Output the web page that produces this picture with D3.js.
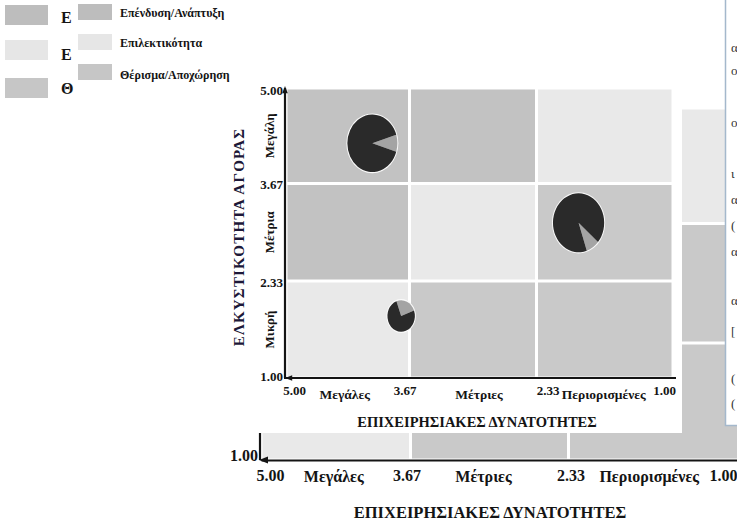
<!DOCTYPE html>
<html><head><meta charset="utf-8">
<script src="https://cdn.jsdelivr.net/npm/d3@7"></script>
<style>body{margin:0;background:#fff}svg{display:block}</style>
</head><body><svg id="c" width="737" height="527"></svg>
<script>
// ---------------- data ----------------
const legendLabels = ["Επένδυση/Ανάπτυξη", "Επιλεκτικότητα", "Θέρισμα/Αποχώρηση"];
const tickValues = [5.00, 3.67, 2.33, 1.00];
const tickLabels = ["5.00", "3.67", "2.33", "1.00"];
const strengthLabels = ["Μεγάλες", "Μέτριες", "Περιορισμένες"];
const attractLabels = ["Μεγάλη", "Μέτρια", "Μικρή"];
const xTitle = "ΕΠΙΧΕΙΡΗΣΙΑΚΕΣ ΔΥΝΑΤΟΤΗΤΕΣ";
const yTitle = "ΕΛΚΥΣΤΙΚΟΤΗΤΑ ΑΓΟΡΑΣ";
// zone index per cell: rows = attractiveness (high->low), cols = strength (high->low)
const cellZone = [[0, 0, 1], [0, 1, 2], [1, 2, 2]];
// business units
const unitStrength = [4.07, 1.92, 3.76];
const unitAttract  = [4.23, 3.13, 1.85];
const unitSize     = [100, 105, 30];
const unitShare    = [9.5, 8.5, 25];
// cut-off text of an overlapping window at the right edge
const edgeChars = ["α", "ο", "ο", "ι", "α", "(", "α", "α", "[", "(", "("];

// ---------------- style ----------------
const zoneFill = ["#c2c2c2", "#e9e9e9", "#c9c9c9"];
const legendFill = ["#bdbdbd", "#e6e6e6", "#c6c6c6"];
const pieOrient = [90, 146, 25]; // degrees, centre of light slice
const FONT = "'Liberation Serif','Times New Roman',serif";
const ink = "#141414";

const svg = d3.select("#c");

function arrow(g, x, y, dir, s) {
  let p;
  if (dir === "left") p = `M${x},${y} L${x + s * 1.8},${y - s * 0.7} L${x + s * 1.8},${y + s * 0.7} Z`;
  else p = `M${x},${y} L${x - s * 0.7},${y + s * 1.8} L${x + s * 0.7},${y + s * 1.8} Z`;
  g.append("path").attr("d", p).attr("fill", ink);
}

function drawCells(g, X, Y) {
  for (let r = 0; r < 3; r++) for (let c = 0; c < 3; c++) {
    const x0 = X(tickValues[c]) + 1.5, x1 = X(tickValues[c + 1]) - 1.5;
    const y0 = Y(tickValues[r]) + 1.5, y1 = Y(tickValues[r + 1]) - 1.5;
    g.append("rect").attr("x", x0).attr("y", y0)
      .attr("width", x1 - x0).attr("height", y1 - y0)
      .attr("fill", zoneFill[cellZone[r][c]]);
  }
}

// ================= background (larger) copy, mostly hidden =================
const bg = svg.append("g");
legendLabels.forEach((l, i) => {
  const yy = [5, 40, 78][i];
  bg.append("rect").attr("x", 5).attr("y", yy).attr("width", 43).attr("height", 20).attr("fill", legendFill[i]);
  // only the first letter of each label is left uncovered
  bg.append("text").attr("x", 61).attr("y", yy + [18, 20, 16][i]).text(l.charAt(0))
    .attr("font-family", FONT).attr("font-weight", "bold").attr("font-size", 16).attr("fill", ink);
});
const bx = d3.scaleLinear().domain(tickValues).range([261, 410.5, 568.5, 740]);
const by = d3.scaleLinear().domain(tickValues).range([108, 223.5, 343, 460]);
drawCells(bg, bx, by);
const bxa = bg.append("g").attr("transform", `translate(0,${by(1)})`)
  .call(d3.axisBottom(bx).tickValues(tickValues).tickSize(0).tickPadding(10).tickFormat((d, i) => tickLabels[i]));
bxa.select(".domain").attr("stroke", ink).attr("stroke-width", 2.2);
bxa.selectAll("text").attr("font-family", FONT).attr("font-weight", "bold").attr("font-size", 16).attr("fill", ink)
  .attr("dx", (d, i) => [9, -4, 2, -17][i]);
arrow(bg, 259, by(1), "left", 5);
bg.append("line").attr("x1", 260).attr("x2", 260).attr("y1", 380).attr("y2", by(1)).attr("stroke", ink).attr("stroke-width", 2.2);
bg.append("text").attr("x", 258).attr("y", by(1) + 1).attr("text-anchor", "end").text(tickLabels[3])
  .attr("font-family", FONT).attr("font-weight", "bold").attr("font-size", 16).attr("fill", ink);
strengthLabels.forEach((l, i) => {
  bg.append("text").attr("x", (bx(tickValues[i]) + bx(tickValues[i + 1])) / 2 + [-2, -6, -5][i]).attr("y", by(1) + 22)
    .attr("text-anchor", "middle").text(l)
    .attr("font-family", FONT).attr("font-weight", "bold").attr("font-size", 16).attr("fill", ink);
});
bg.append("text").attr("x", 490).attr("y", 518).attr("text-anchor", "middle").text(xTitle)
  .attr("font-family", FONT).attr("font-weight", "bold").attr("font-size", 16.5).attr("fill", ink);

// ================= main panel =================
svg.append("rect").attr("x", 74).attr("y", 0).attr("width", 608).attr("height", 433).attr("fill", "#fff");
const mg = svg.append("g");
legendLabels.forEach((l, i) => {
  const yy = [4, 34, 64][i];
  mg.append("rect").attr("x", 78).attr("y", yy).attr("width", 34).attr("height", 16).attr("fill", legendFill[i]);
  mg.append("text").attr("x", 120).attr("y", yy + [13, 13, 15][i]).text(l)
    .attr("font-family", FONT).attr("font-weight", "bold").attr("font-size", 12).attr("fill", ink);
});
const mx = d3.scaleLinear().domain(tickValues).range([286, 409.5, 536.5, 673]);
const my = d3.scaleLinear().domain(tickValues).range([88, 183.5, 281, 378]);
drawCells(mg, mx, my);

// pies
const rScale = d3.scaleSqrt().domain([0, 100]).range([0, 25]);
unitStrength.forEach((s, i) => {
  const r = rScale(unitSize[i]);
  const light = unitShare[i] / 100 * 2 * Math.PI;
  const start = pieOrient[i] * Math.PI / 180 - light / 2;
  const pie = d3.pie().sort(null).startAngle(start).endAngle(start + 2 * Math.PI);
  const arcs = pie([unitShare[i], 100 - unitShare[i]]);
  const g = mg.append("g").attr("transform", `translate(${mx(s)},${my(unitAttract[i])}) scale(1,1.15)`);
  g.append("circle").attr("r", r + 1).attr("fill", "#fafafa");
  g.selectAll("path").data(arcs).join("path")
    .attr("d", d3.arc().innerRadius(0).outerRadius(r))
    .attr("fill", (d, j) => j === 0 ? "#a4a4a4" : "#2a2a2a");
});

// axes
const mxa = mg.append("g").attr("transform", `translate(0,${my(1)})`)
  .call(d3.axisBottom(mx).tickValues(tickValues).tickSize(0).tickPadding(8).tickFormat((d, i) => tickLabels[i]));
mxa.select(".domain").attr("stroke", ink).attr("stroke-width", 2.2).attr("d", `M284,0H676`);
mxa.selectAll("text").attr("font-family", FONT).attr("font-weight", "bold").attr("font-size", 13).attr("fill", ink)
  .attr("dx", (d, i) => [8, -5, 11, -9][i]);
arrow(mg, 285, my(1), "left", 4);
const mya = mg.append("g").attr("transform", `translate(285,0)`)
  .call(d3.axisLeft(my).tickValues(tickValues).tickSize(0).tickPadding(2).tickFormat((d, i) => tickLabels[i]));
mya.select(".domain").attr("stroke", ink).attr("stroke-width", 2.2).attr("d", `M0,378V88`);
mya.selectAll("text").attr("font-family", FONT).attr("font-weight", "bold").attr("font-size", 13).attr("fill", ink)
  .attr("dy", (d, i) => ["0.5em", "0.4em", "0.4em", "0.2em"][i]);
arrow(mg, 285, 86, "up", 4);

strengthLabels.forEach((l, i) => {
  mg.append("text").attr("x", (mx(tickValues[i]) + mx(tickValues[i + 1])) / 2 + [-3, 6, -1][i]).attr("y", my(1) + 21)
    .attr("text-anchor", "middle").text(l)
    .attr("font-family", FONT).attr("font-weight", "bold").attr("font-size", 13.5).attr("fill", ink);
});
attractLabels.forEach((l, i) => {
  const cy = (my(tickValues[i]) + my(tickValues[i + 1])) / 2;
  mg.append("text").attr("transform", `translate(274,${cy}) rotate(-90)`)
    .attr("text-anchor", "middle").text(l)
    .attr("font-family", FONT).attr("font-weight", "bold").attr("font-size", 13).attr("fill", ink);
});
mg.append("text").attr("x", 477).attr("y", 427).attr("text-anchor", "middle").text(xTitle)
  .attr("font-family", FONT).attr("font-weight", "bold").attr("font-size", 14.5).attr("fill", ink);
mg.append("text").attr("transform", `translate(244,237) rotate(-90)`).attr("text-anchor", "middle").text(yTitle)
  .attr("font-family", FONT).attr("font-weight", "bold").attr("font-size", 15).attr("letter-spacing", 1.2)
  .attr("fill", "#1c1838");

// ================= overlapping window on the right =================
const win = svg.append("g");
win.append("rect").attr("x", 725.5).attr("y", -2).attr("width", 30).attr("height", 427.5)
  .attr("fill", "#fff").attr("stroke", "#a4b8cc").attr("stroke-width", 1.5);
const edgeY = [52, 75, 127, 178, 204, 230, 256, 305, 336, 383, 408];
edgeChars.forEach((ch, i) => {
  win.append("text").attr("x", 731).attr("y", edgeY[i]).text(ch)
    .attr("font-family", FONT).attr("font-size", 13).attr("fill", "#333");
});
</script></body></html>
